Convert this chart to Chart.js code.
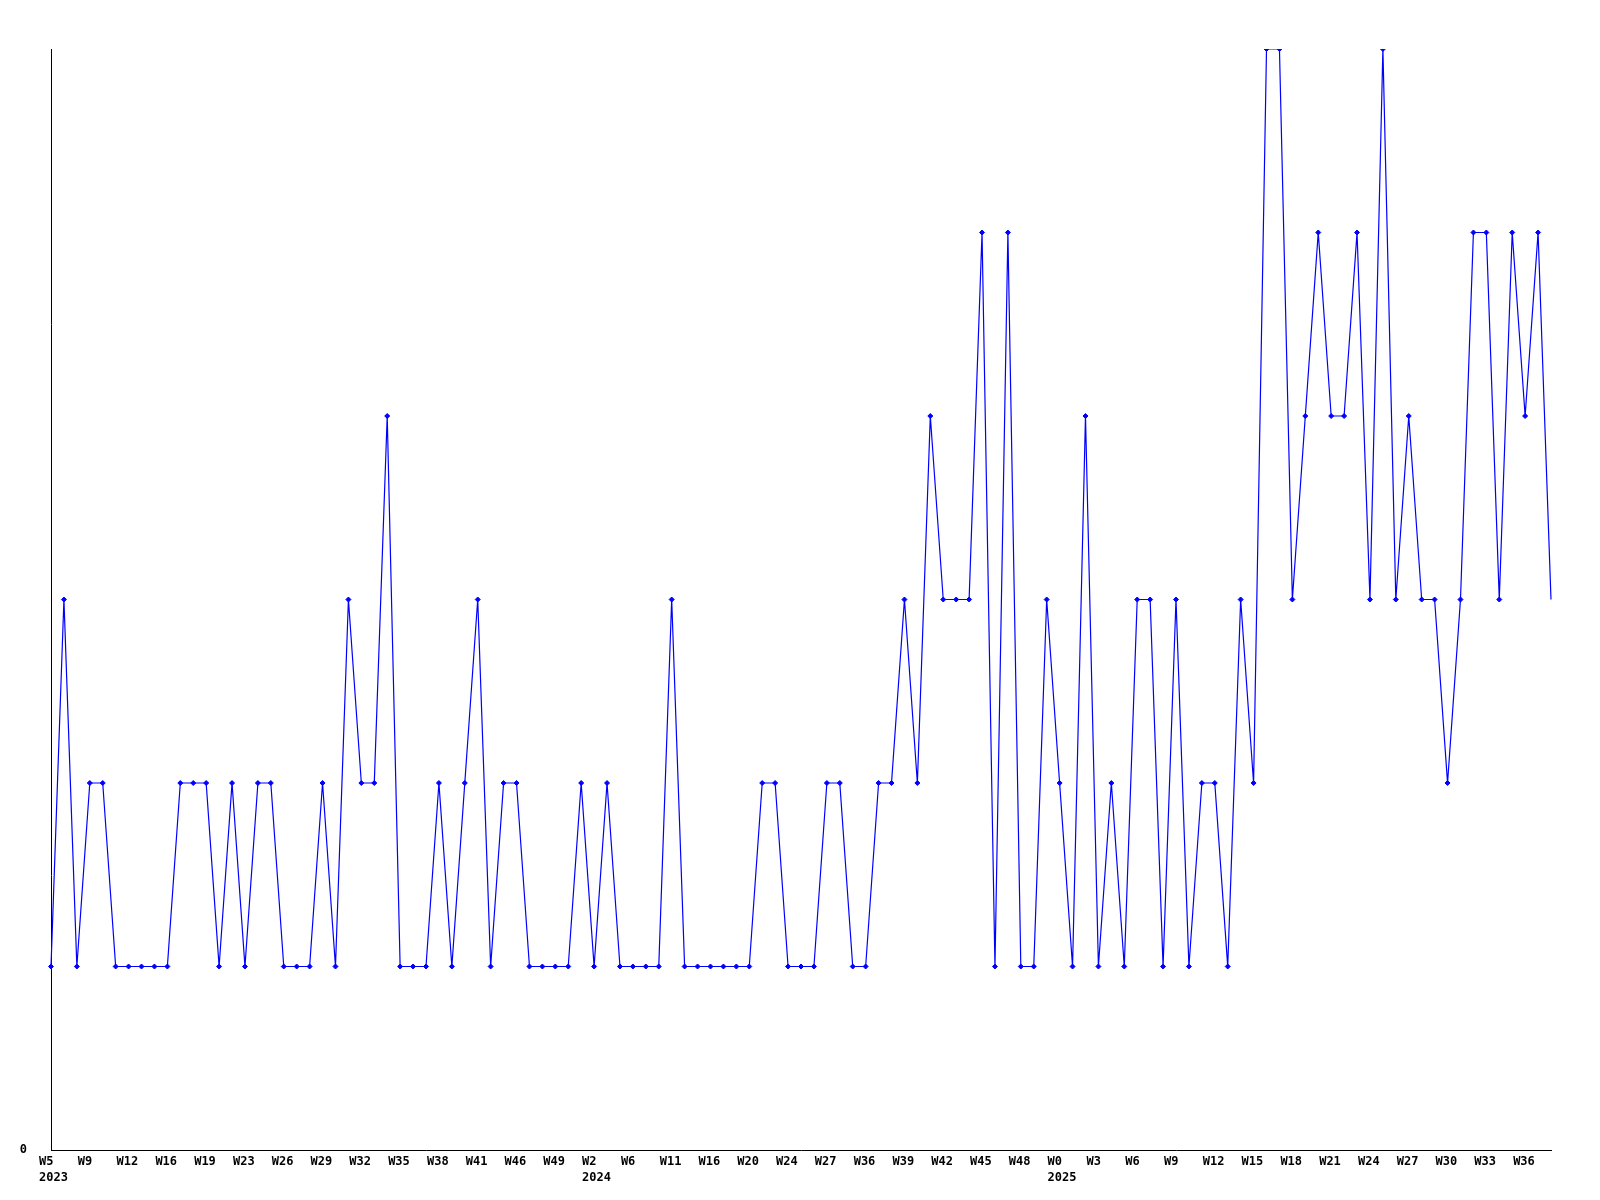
<!DOCTYPE html>
<html>
<head>
<meta charset="utf-8">
<script src="https://cdn.jsdelivr.net/npm/chart.js@4.4.1/dist/chart.umd.min.js"></script>
<style>
    body { margin: 0; background: #fff; }
</style>
</head>
<body>
<canvas id="weekChart" width="1600" height="1200"></canvas>
<script>
// weekly counts, one entry per reported week
const weeks = [
    "W5", "W6", "W8", "W9", "W10", "W11", "W12", "W13", "W15", "W16",
    "W17", "W18", "W19", "W20", "W22", "W23", "W24", "W25", "W26", "W27",
    "W28", "W29", "W30", "W31", "W32", "W33", "W34", "W35", "W36", "W37",
    "W38", "W39", "W40", "W41", "W43", "W44", "W46", "W47", "W48", "W49",
    "W50", "W51", "W2", "W3", "W5", "W6", "W8", "W9", "W11", "W12",
    "W14", "W16", "W17", "W18", "W20", "W21", "W23", "W24", "W25", "W26",
    "W27", "W29", "W33", "W36", "W37", "W38", "W39", "W40", "W41", "W42",
    "W43", "W44", "W45", "W46", "W47", "W48", "W50", "W51", "W0", "W1",
    "W2", "W3", "W4", "W5", "W6", "W7", "W8", "W9", "W10", "W11",
    "W12", "W13", "W14", "W15", "W16", "W17", "W18", "W19", "W20", "W21",
    "W22", "W23", "W24", "W25", "W26", "W27", "W28", "W29", "W30", "W31",
    "W32", "W33", "W34", "W35", "W36", "W37", "W38"
];

const counts = [
    1, 3, 1, 2, 2, 1, 1, 1, 1, 1,
    2, 2, 2, 1, 2, 1, 2, 2, 1, 1,
    1, 2, 1, 3, 2, 2, 4, 1, 1, 1,
    2, 1, 2, 3, 1, 2, 2, 1, 1, 1,
    1, 2, 1, 2, 1, 1, 1, 1, 3, 1,
    1, 1, 1, 1, 1, 2, 2, 1, 1, 1,
    2, 2, 1, 1, 2, 2, 3, 2, 4, 3,
    3, 3, 5, 1, 5, 1, 1, 3, 2, 1,
    4, 1, 2, 1, 3, 3, 1, 3, 1, 2,
    2, 1, 3, 2, 6, 6, 3, 4, 5, 4,
    4, 5, 3, 6, 3, 4, 3, 3, 2, 3,
    5, 5, 3, 5, 4, 5, 3
];

// index of the first week of each year, and the year shown under it
const yearStarts = [0, 42, 78];
const yearNames = ["2023", "2024", "2025"];

const labelEvery = 3;
const axisFont = "bold 12px 'DejaVu Sans Mono', monospace";

// x labels sit left aligned a bit before their point
const weekLabels = {
    id: "weekLabels",
    afterDraw(chart) {
        const ctx = chart.ctx;
        const xScale = chart.scales.x;
        const base = chart.chartArea.bottom;
        ctx.save();
        ctx.font = axisFont;
        ctx.fillStyle = "#000";
        ctx.textAlign = "left";
        ctx.textBaseline = "middle";
        for (let i = 0; i < weeks.length; i += labelEvery) {
            const x = xScale.getPixelForValue(i) - 12;
            ctx.fillText(weeks[i], x, base + 12);
        }
        yearStarts.forEach((idx, k) => {
            const x = xScale.getPixelForValue(idx) - 12;
            ctx.fillText(yearNames[k], x, base + 28);
        });
        ctx.restore();
    }
};

const ctx = document.getElementById("weekChart").getContext("2d");
new Chart(ctx, {
    type: "line",
    data: {
        labels: weeks,
        datasets: [{
            data: counts,
            borderColor: "#0000ff",
            backgroundColor: "#0000ff",
            borderWidth: 1.2,
            pointStyle: "rectRot",
            pointRadius: counts.map((v, i) => i === counts.length - 1 ? 0 : 2.5),
            pointBorderWidth: 1,
            tension: 0,
            fill: false
        }]
    },
    options: {
        responsive: false,
        animation: false,
        layout: { padding: { left: 0, top: 49, right: 49, bottom: 50 } },
        plugins: {
            legend: { display: false },
            tooltip: { enabled: false }
        },
        scales: {
            x: {
                grid: { display: false },
                border: { color: "#000", width: 1 },
                ticks: { display: false },
                afterFit: scale => { scale.height = 0; }
            },
            y: {
                min: 0,
                max: 6,
                grid: { display: false },
                border: { color: "#000", width: 1 },
                ticks: {
                    stepSize: 1,
                    padding: 16,
                    color: "#000",
                    font: { family: "'DejaVu Sans Mono', monospace", size: 12, weight: "bold" },
                    callback: v => v === 0 ? "0" : ""
                },
                afterFit: scale => { scale.width = 51; }
            }
        }
    },
    plugins: [weekLabels]
});
</script>
</body>
</html>
